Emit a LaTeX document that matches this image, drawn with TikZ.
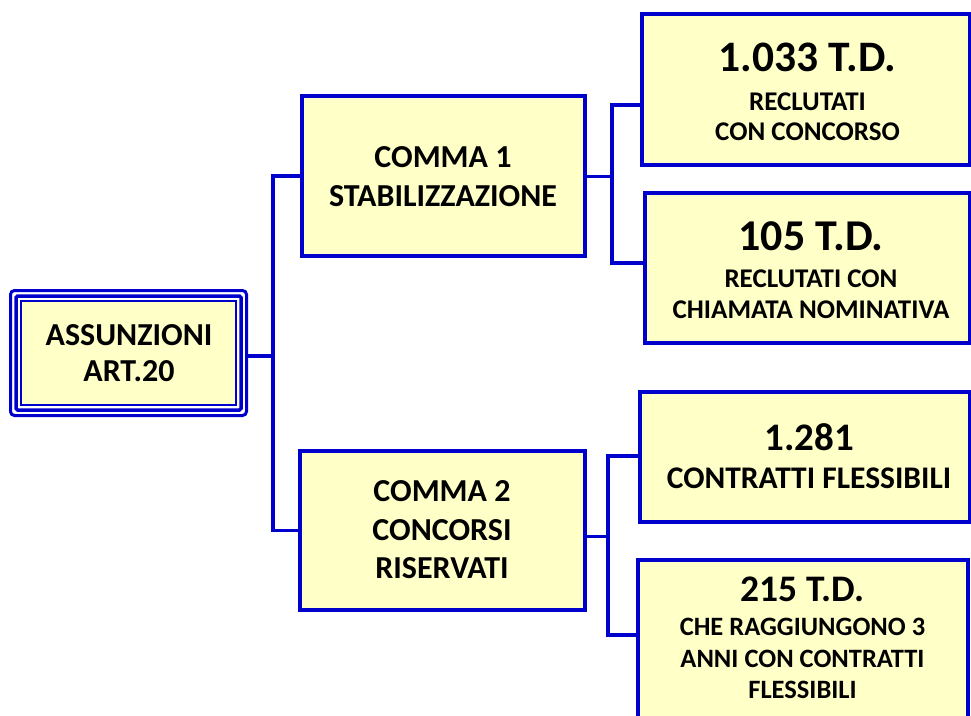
\documentclass[tikz,border=0pt]{standalone}
\usepackage{fontspec}
\setmainfont{Carlito}
\definecolor{bl}{RGB}{0,0,204}
\definecolor{yel}{RGB}{255,255,200}
\begin{document}
\begin{tikzpicture}[x=1pt,y=-1pt,
  box/.style={draw=bl,fill=yel,line width=3.5pt,rectangle,inner sep=0pt},
  conn/.style={draw=bl,line width=3.5pt},
  txt/.style={anchor=base,inner sep=0pt,font=\bfseries},
]
\useasboundingbox (0,0) rectangle (971,715);
\clip (0,0) rectangle (971,715);
% left triple framed box
\node[draw=bl,line width=3pt,rounded corners=4pt,minimum width=236pt,minimum height=125pt,inner sep=0pt] (lo) at (128.5,353) {};
\node[draw=bl,line width=3.5pt,rounded corners=1.5pt,minimum width=225pt,minimum height=114pt,inner sep=0pt] (lm) at (128.5,353) {};
\node[draw=bl,fill=yel,line width=1.5pt,minimum width=215pt,minimum height=104pt,inner sep=0pt] (l) at (128.5,353) {};
\node[txt,font=\bfseries\fontsize{32}{32}\selectfont] (t1) at (129,345) {ASSUNZIONI};
\node[txt,font=\bfseries\fontsize{32}{32}\selectfont] (t2) at (129,381.5) {ART.20};
% middle boxes
\node[box,minimum width=283pt,minimum height=160pt] (c1) at (443.5,176) {};
\node[txt,font=\bfseries\fontsize{32}{32}\selectfont] (t3) at (443,167) {COMMA 1};
\node[txt,font=\bfseries\fontsize{32}{32}\selectfont] (t4) at (443,206.5) {STABILIZZAZIONE};
\node[box,minimum width=285pt,minimum height=159pt] (c2) at (442.5,530.5) {};
\node[txt,font=\bfseries\fontsize{32}{32}\selectfont] (t5) at (442,501.5) {COMMA 2};
\node[txt,font=\bfseries\fontsize{32}{32}\selectfont] (t6) at (442,540) {CONCORSI};
\node[txt,font=\bfseries\fontsize{32}{32}\selectfont] (t7) at (442,578) {RISERVATI};
% right boxes
\node[box,minimum width=328pt,minimum height=151pt] (r1) at (806,89.5) {};
\node[txt,font=\bfseries\fontsize{43.5}{43.5}\selectfont] (t8) at (807.5,71.5) {1.033 T.D.};
\node[txt,font=\bfseries\fontsize{27}{27}\selectfont] (t9) at (807.5,110) {RECLUTATI};
\node[txt,font=\bfseries\fontsize{27}{27}\selectfont] (t10) at (807.5,140) {CON CONCORSO};
\node[box,minimum width=325pt,minimum height=150pt] (r2) at (807.5,268) {};
\node[txt,font=\bfseries\fontsize{44}{44}\selectfont] (t11) at (811,250) {105 T.D.};
\node[txt,font=\bfseries\fontsize{27}{27}\selectfont] (t12) at (811,287) {RECLUTATI CON};
\node[txt,font=\bfseries\fontsize{27}{27}\selectfont] (t13) at (811,318) {CHIAMATA NOMINATIVA};
\node[box,minimum width=330pt,minimum height=130pt] (r3) at (805,457) {};
\node[txt,font=\bfseries\fontsize{39}{39}\selectfont] (t14) at (809,450) {1.281};
\node[txt,font=\bfseries\fontsize{31.5}{31.5}\selectfont] (t15) at (809,488) {CONTRATTI FLESSIBILI};
\node[box,minimum width=330pt,minimum height=180pt] (r4) at (803,650) {};
\node[txt,font=\bfseries\fontsize{37.5}{37.5}\selectfont] (t16) at (802.5,601.5) {215 T.D.};
\node[txt,font=\bfseries\fontsize{26.5}{26.5}\selectfont] (t17) at (802.5,635) {CHE RAGGIUNGONO 3};
\node[txt,font=\bfseries\fontsize{26.5}{26.5}\selectfont] (t18) at (802.5,667) {ANNI CON CONTRATTI};
\node[txt,font=\bfseries\fontsize{26.5}{26.5}\selectfont] (t19) at (802.5,698) {FLESSIBILI};
% connectors
\coordinate (j0) at (273,356);
\coordinate (j1) at (612,176.5);
\coordinate (j1a) at (612,105);
\coordinate (j1b) at (612,263);
\coordinate (j2) at (608,536.5);
\coordinate (j2a) at (608,456);
\coordinate (j2b) at (608,635);
\draw[conn] (lo.east |- j0) -- (j0);
\draw[conn] (c1.west) -| (j0) |- (c2.west);
\draw[conn] (c1.east |- j1) -- (j1);
\draw[conn] (j1a -| r1.west) -- (j1a) -- (j1b) -- (j1b -| r2.west);
\draw[conn] (c2.east |- j2) -- (j2);
\draw[conn] (j2a -| r3.west) -- (j2a) -- (j2b) -- (j2b -| r4.west);
\end{tikzpicture}
\end{document}
